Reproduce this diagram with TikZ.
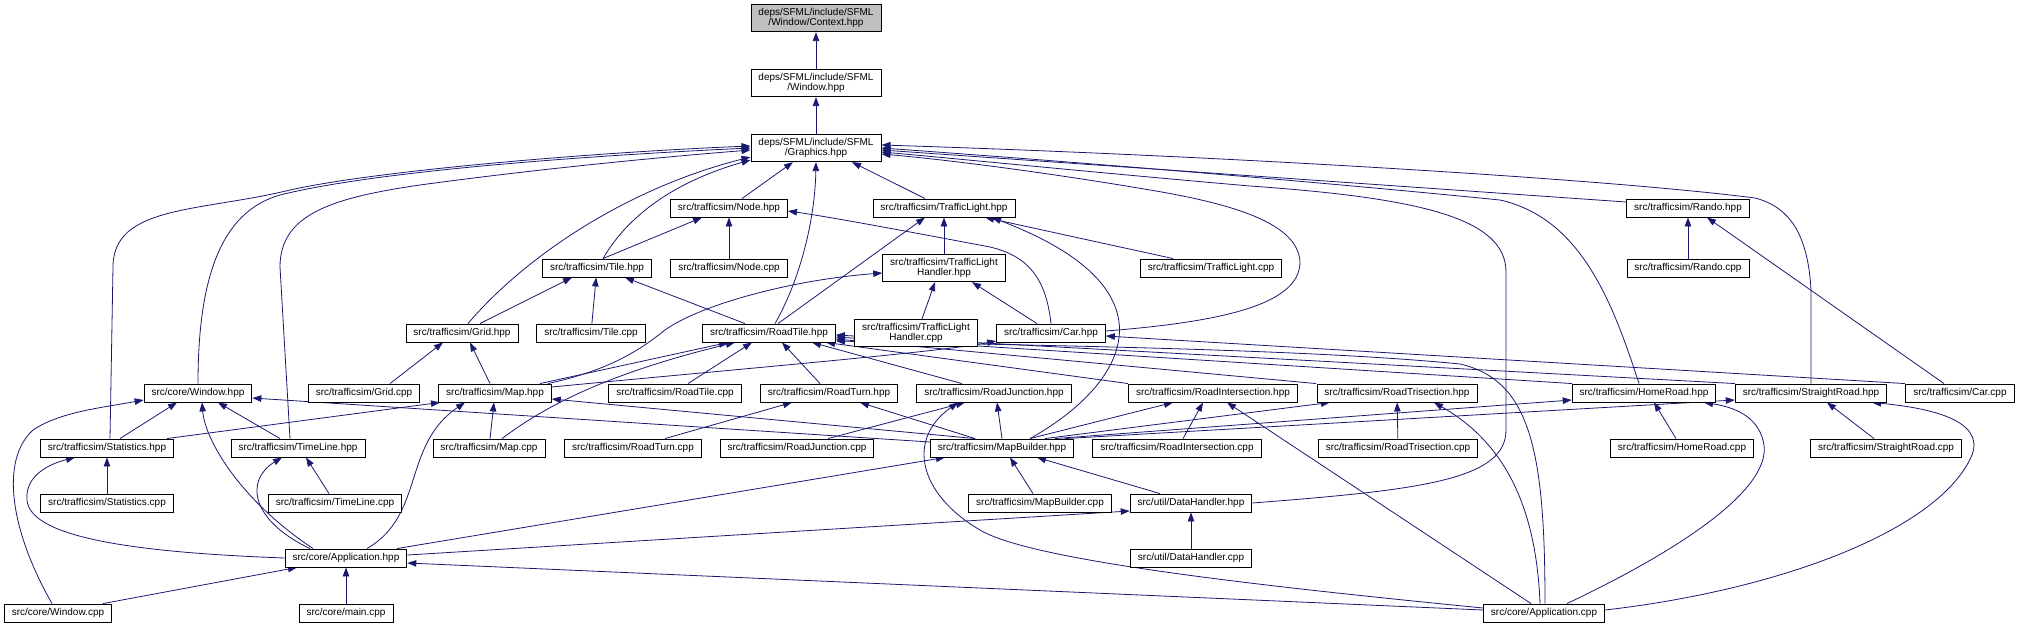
\documentclass[tikz,border=0pt]{standalone}
\usepackage{fontspec}
\setmainfont{Liberation Sans}
\usepackage{xcolor}
\usetikzlibrary{arrows.meta}

\definecolor{edgeblue}{HTML}{191970}
\definecolor{rootgray}{HTML}{BFBFBF}

\pgfdeclarelayer{background}
\pgfsetlayers{background,main}

\begin{document}
\begin{tikzpicture}[
    x=1pt,
    y=-1pt,
    font=\fontsize{10}{10}\selectfont,
    box/.style={
        rectangle,
        draw=black,
        fill=white,
        line width=0.9pt,
        align=center,
        inner xsep=7.5pt,
        inner ysep=4pt,
        minimum height=18pt
    },
    rootbox/.style={
        box,
        fill=rootgray
    },
    dep/.style={
        draw=edgeblue,
        line width=0.8pt,
        -{Triangle[length=9pt,width=6.5pt]}
    }
]
    \useasboundingbox (0,0) rectangle (2019,627);

    % Level 1-3: SFML headers
    \node [rootbox] (context) at (816,18) {deps/SFML/include/SFML\\/Window/Context.hpp};
    \node [box] (sfwindow) at (816,83) {deps/SFML/include/SFML\\/Window.hpp};
    \node [box] (graphics) at (816,148) {deps/SFML/include/SFML\\/Graphics.hpp};

    % Level 4
    \node [box] (nodehdr) at (729,208) {src/trafficsim/Node.hpp};
    \node [box] (tlight) at (944,208) {src/trafficsim/TrafficLight.hpp};
    \node [box] (rando) at (1688,208) {src/trafficsim/Rando.hpp};

    % Level 5
    \node [box] (tile) at (597,268) {src/trafficsim/Tile.hpp};
    \node [box] (nodecpp) at (729,268) {src/trafficsim/Node.cpp};
    \node [box] (tlhandler) at (944,268) {src/trafficsim/TrafficLight\\Handler.hpp};
    \node [box] (tlcpp) at (1211,268) {src/trafficsim/TrafficLight.cpp};
    \node [box] (randocpp) at (1688,268) {src/trafficsim/Rando.cpp};

    % Level 6
    \node [box] (grid) at (462,333) {src/trafficsim/Grid.hpp};
    \node [box] (tilecpp) at (591,333) {src/trafficsim/Tile.cpp};
    \node [box] (roadtile) at (769,333) {src/trafficsim/RoadTile.hpp};
    \node [box] (tlhcpp) at (916,333) {src/trafficsim/TrafficLight\\Handler.cpp};
    \node [box] (car) at (1051,333) {src/trafficsim/Car.hpp};

    % Level 7
    \node [box] (window) at (198,393) {src/core/Window.hpp};
    \node [box] (gridcpp) at (364,393) {src/trafficsim/Grid.cpp};
    \node [box] (map) at (495,393) {src/trafficsim/Map.hpp};
    \node [box] (roadtilecpp) at (675,393) {src/trafficsim/RoadTile.cpp};
    \node [box] (roadturn) at (829,393) {src/trafficsim/RoadTurn.hpp};
    \node [box] (junction) at (994,393) {src/trafficsim/RoadJunction.hpp};
    \node [box] (inters) at (1213,393) {src/trafficsim/RoadIntersection.hpp};
    \node [box] (trisec) at (1397,393) {src/trafficsim/RoadTrisection.hpp};
    \node [box] (home) at (1644,393) {src/trafficsim/HomeRoad.hpp};
    \node [box] (straight) at (1811,393) {src/trafficsim/StraightRoad.hpp};
    \node [box] (carcpp) at (1960,393) {src/trafficsim/Car.cpp};

    % Level 8
    \node [box] (stats) at (107,448) {src/trafficsim/Statistics.hpp};
    \node [box] (timeline) at (298,448) {src/trafficsim/TimeLine.hpp};
    \node [box] (mapcpp) at (489,448) {src/trafficsim/Map.cpp};
    \node [box] (roadturncpp) at (633,448) {src/trafficsim/RoadTurn.cpp};
    \node [box] (junctioncpp) at (797,448) {src/trafficsim/RoadJunction.cpp};
    \node [box] (builder) at (1002,448) {src/trafficsim/MapBuilder.hpp};
    \node [box] (interscpp) at (1177,448) {src/trafficsim/RoadIntersection.cpp};
    \node [box] (triseccpp) at (1398,448) {src/trafficsim/RoadTrisection.cpp};
    \node [box] (homecpp) at (1682,448) {src/trafficsim/HomeRoad.cpp};
    \node [box] (straightcpp) at (1886,448) {src/trafficsim/StraightRoad.cpp};

    % Level 9-11
    \node [box] (statscpp) at (107,503) {src/trafficsim/Statistics.cpp};
    \node [box] (timelinecpp) at (335,503) {src/trafficsim/TimeLine.cpp};
    \node [box] (buildercpp) at (1040,503) {src/trafficsim/MapBuilder.cpp};
    \node [box] (data) at (1191,503) {src/util/DataHandler.hpp};
    \node [box] (app) at (346,558) {src/core/Application.hpp};
    \node [box] (datacpp) at (1191,558) {src/util/DataHandler.cpp};
    \node [box] (wincpp) at (58,613) {src/core/Window.cpp};
    \node [box] (maincpp) at (346,613) {src/core/main.cpp};
    \node [box] (appcpp) at (1544,613) {src/core/Application.cpp};

    \begin{pgfonlayer}{background}
    % SFML chain
    \draw [dep] (sfwindow) -- (context);
    \draw [dep] (graphics) -- (sfwindow);

    % Into Graphics.hpp
    \draw [dep] ([xshift=3pt]stats.north) -- (113,267) .. controls (113,205) and (200,212) .. (290,190) .. controls (380,170) and (600,152) .. ([yshift=2pt]graphics.west);
    \draw [dep] (window.north) .. controls (198,280) and (220,212) .. (280,195) .. controls (380,170) and (600,155) .. (graphics.west);
    \draw [dep] ([xshift=-8pt]timeline.north) -- (280,267) .. controls (280,215) and (330,198) .. (420,185) .. controls (530,170) and (650,158) .. ([yshift=-2pt]graphics.west);
    \draw [dep] ([xshift=6pt]grid.north) .. controls (520,262) and (620,190) .. ([yshift=-9pt]graphics.west);
    \draw [dep] ([xshift=6pt]tile.north) .. controls (630,212) and (680,180) .. ([yshift=-12pt]graphics.west);
    \draw [dep] ([xshift=6pt]roadtile.north) .. controls (800,280) and (815,220) .. (graphics.south);
    \draw [dep] ([xshift=13pt]nodehdr.north) -- ([xshift=-23pt]graphics.south);
    \draw [dep] ([xshift=-19pt]tlight.north) -- ([xshift=36pt]graphics.south);
    \draw [dep] ([yshift=6pt]rando.west) -- ([yshift=-2pt]graphics.east);
    \draw [dep] (straight.north) -- (1811,290) .. controls (1808,235) and (1790,207) .. (1755,198) .. controls (1600,178) and (1200,155) .. ([yshift=3pt]graphics.east);
    \draw [dep] ([xshift=-5pt]home.north) .. controls (1612,300) and (1580,218) .. (1500,200) .. controls (1300,180) and (1050,160) .. (graphics.east);
    \draw [dep] (data.east) .. controls (1420,490) and (1506,480) .. (1506,430) -- (1506,272) .. controls (1506,218) and (1420,198) .. (1250,186) .. controls (1100,173) and (950,158) .. ([yshift=-4pt]graphics.east);
    \draw [dep] ([yshift=2pt]car.east) .. controls (1220,322) and (1300,305) .. (1300,262) .. controls (1298,225) and (1240,205) .. (1150,190) .. controls (1050,173) and (950,160) .. ([yshift=-6pt]graphics.east);

    % Into Node.hpp
    \draw [dep] ([xshift=6pt]tile.north) -- ([xshift=-27pt]nodehdr.south);
    \draw [dep] (nodecpp) -- (nodehdr);
    \draw [dep] (car.north) .. controls (1046,278) and (1028,256) .. (990,247) .. controls (900,230) and (830,217) .. ([yshift=-3pt]nodehdr.east);

    % Into TrafficLight.hpp
    \draw [dep] (tlhandler) -- (tlight);
    \draw [dep] ([xshift=-38pt]tlcpp.north) -- ([xshift=41pt]tlight.south);
    \draw [dep] ([xshift=9pt]roadtile.north) -- ([xshift=-19pt]tlight.south);
    \draw [dep] ([xshift=28pt]builder.north) .. controls (1090,405) and (1124,362) .. (1119,322) .. controls (1112,268) and (1040,236) .. ([xshift=48pt]tlight.south);

    % Into TrafficLightHandler.hpp
    \draw [dep] ([xshift=6pt]tlhcpp.north) -- ([xshift=-9pt]tlhandler.south);
    \draw [dep] ([xshift=-14pt]car.north) -- ([xshift=28pt]tlhandler.south);
    \draw [dep] ([xshift=53pt]map.north) .. controls (610,370) and (640,350) .. (665,330) .. controls (700,305) and (790,280) .. ([yshift=-5pt]tlhandler.west);

    % Into Tile.hpp
    \draw [dep] ([xshift=18pt]grid.north) -- ([xshift=-25pt]tile.south);
    \draw [dep] (tilecpp) -- (tile);
    \draw [dep] ([xshift=-24pt]roadtile.north) -- ([xshift=28pt]tile.south);

    % Into Rando.hpp
    \draw [dep] (randocpp) -- (rando);
    \draw [dep] ([xshift=-16pt]carcpp.north) -- ([xshift=19pt]rando.south);

    % Into Grid.hpp
    \draw [dep] ([xshift=26pt]gridcpp.north) -- ([xshift=-19pt]grid.south);
    \draw [dep] ([xshift=-5pt]map.north) -- ([xshift=8pt]grid.south);

    % Into Car.hpp
    \draw [dep] ([yshift=6pt]map.east) .. controls (750,368) and (940,352) .. ([yshift=-8pt]car.west);
    \draw [dep] ([xshift=-55pt]carcpp.north) -- ([yshift=-3pt]car.east);

    % Into RoadTile.hpp
    \draw [dep] ([xshift=45pt]map.north) -- ([xshift=-41pt]roadtile.south);
    \draw [dep] ([xshift=13pt]mapcpp.north) .. controls (540,410) and (600,375) .. ([xshift=-34pt]roadtile.south);
    \draw [dep] ([xshift=13pt]roadtilecpp.north) -- ([xshift=-17pt]roadtile.south);
    \draw [dep] ([xshift=-9pt]roadturn.north) -- ([xshift=13pt]roadtile.south);
    \draw [dep] ([xshift=-32pt]junction.north) -- ([xshift=43pt]roadtile.south);
    \draw [dep] ([xshift=-85pt]inters.north) -- ([xshift=57pt]roadtile.south);
    \draw [dep] ([xshift=-81pt]trisec.north) -- ([yshift=-6pt]roadtile.east);
    \draw [dep] ([xshift=-72pt]home.north) -- ([yshift=-4pt]roadtile.east);
    \draw [dep] ([xshift=-76pt]straight.north) -- ([yshift=-2pt]roadtile.east);
    \draw [dep] ([xshift=1pt]appcpp.north) .. controls (1545,450) and (1530,380) .. (1460,364) .. controls (1300,348) and (1000,345) .. ([yshift=-8pt]roadtile.east);

    % Into RoadTurn.hpp
    \draw [dep] ([xshift=32pt]roadturncpp.north) -- ([xshift=-37pt]roadturn.south);
    \draw [dep] ([xshift=-27pt]builder.north) -- ([xshift=31pt]roadturn.south);

    % Into RoadJunction.hpp
    \draw [dep] ([xshift=31pt]junctioncpp.north) -- ([xshift=-29pt]junction.south);
    \draw [dep] (builder.north) -- ([xshift=3pt]junction.south);
    \draw [dep] ([yshift=5pt]appcpp.west) .. controls (1250,585) and (1030,560) .. (980,530) .. controls (920,495) and (905,440) .. ([xshift=-36pt]junction.south);

    % Into RoadIntersection.hpp
    \draw [dep] ([xshift=6pt]interscpp.north) -- ([xshift=-10pt]inters.south);
    \draw [dep] ([xshift=28pt]builder.north) -- ([xshift=-40pt]inters.south);
    \draw [dep] ([xshift=-13pt]appcpp.north) -- ([xshift=14pt]inters.south);

    % Into RoadTrisection.hpp
    \draw [dep] (triseccpp) -- (trisec);
    \draw [dep] ([xshift=43pt]builder.north) -- ([xshift=-67pt]trisec.south);
    \draw [dep] ([xshift=-4pt]appcpp.north) .. controls (1536,500) and (1500,440) .. ([xshift=37pt]trisec.south);

    % Into HomeRoad.hpp
    \draw [dep] ([xshift=-6pt]homecpp.north) -- ([xshift=10pt]home.south);
    \draw [dep] ([xshift=53pt]builder.north) -- ([yshift=-7pt]home.west);
    \draw [dep] ([xshift=23pt]appcpp.north) .. controls (1680,550) and (1770,490) .. (1764,445) .. controls (1760,420) and (1740,408) .. ([xshift=60pt]home.south);

    % Into StraightRoad.hpp
    \draw [dep] ([xshift=-12pt]straightcpp.north) -- ([xshift=16pt]straight.south);
    \draw [dep] ([xshift=63pt]builder.north) -- ([yshift=-7pt]straight.west);
    \draw [dep] ([yshift=3pt]appcpp.east) .. controls (1780,590) and (1940,530) .. (1972,455) .. controls (1985,420) and (1930,408) .. ([xshift=61pt]straight.south);

    % Into MapBuilder.hpp
    \draw [dep] ([xshift=-7pt]buildercpp.north) -- ([xshift=8pt]builder.south);
    \draw [dep] ([xshift=-31pt]data.north) -- ([xshift=35pt]builder.south);
    \draw [dep] ([xshift=51pt]app.north) -- ([xshift=-57pt]builder.south);

    % Into core Window.hpp
    \draw [dep] ([yshift=6pt]builder.west) -- ([yshift=-5pt]window.east);
    \draw [dep] ([xshift=13pt]stats.north) -- ([xshift=-21pt]window.south);
    \draw [dep] ([xshift=-18pt]timeline.north) -- ([xshift=20pt]window.south);
    \draw [dep] ([xshift=-33pt]app.north) .. controls (240,500) and (205,440) .. ([xshift=4pt]window.south);
    \draw [dep] ([xshift=-6pt]wincpp.north) .. controls (10,530) and (0,460) .. (33,430) .. controls (60,412) and (100,408) .. ([yshift=-7pt]window.west);

    % Into Map.hpp
    \draw [dep] (mapcpp) -- (map);
    \draw [dep] ([xshift=-27pt]builder.north) -- ([yshift=-6pt]map.east);
    \draw [dep] ([xshift=60pt]stats.north) -- ([xshift=-55pt]map.south);
    \draw [dep] ([xshift=21pt]app.north) .. controls (425,515) and (402,445) .. ([xshift=-30pt]map.south);

    % Into Statistics.hpp
    \draw [dep] (statscpp) -- (stats);
    \draw [dep] (app.west) .. controls (150,553) and (30,540) .. (27,500) .. controls (25,478) and (45,465) .. ([xshift=-32pt]stats.south);

    % Into TimeLine.hpp
    \draw [dep] ([xshift=-6pt]timelinecpp.north) -- ([xshift=8pt]timeline.south);
    \draw [dep] ([xshift=-36pt]app.north) .. controls (250,520) and (245,480) .. ([xshift=-16pt]timeline.south);

    % Into Application.hpp
    \draw [dep] (maincpp) -- (app);
    \draw [dep] ([xshift=45pt]wincpp.north) -- ([xshift=-49pt]app.south);
    \draw [dep] ([yshift=3pt]appcpp.west) -- ([yshift=-5pt]app.east);

    % Into DataHandler.hpp
    \draw [dep] (datacpp) -- (data);
    \draw [dep] ([yshift=3pt]app.east) -- ([yshift=-8pt]data.west);
    \end{pgfonlayer}

\end{tikzpicture}
\end{document}
